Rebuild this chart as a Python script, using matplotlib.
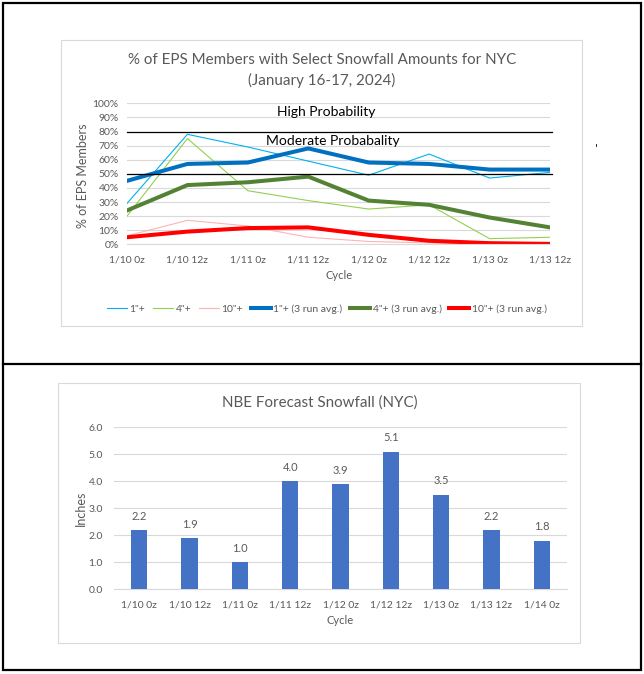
import numpy as np
import matplotlib
matplotlib.use("Agg")
import matplotlib.pyplot as plt
from matplotlib.lines import Line2D
from matplotlib.patches import Rectangle

# ---- data ----------------------------------------------------------------
cycles_eps = ["1/10 0z", "1/10 12z", "1/11 0z", "1/11 12z",
              "1/12 0z", "1/12 12z", "1/13 0z", "1/13 12z"]
one_plus = [29, 78, 69, 59, 49, 64, 47, 51]
four_plus = [20, 75, 38, 31, 25, 28, 4, 5]
ten_plus = [6, 17, 13, 5, 2, 1, 0, 0]
one_avg = [45, 57, 58, 68, 58, 57, 53, 53]
four_avg = [24, 42, 44, 48, 31, 28, 19, 12]
ten_avg = [5, 9, 11.5, 12, 6.7, 2.5, 0.8, 0.3]
thresholds = [80, 50]

cycles_nbe = ["1/10 0z", "1/10 12z", "1/11 0z", "1/11 12z", "1/12 0z",
              "1/12 12z", "1/13 0z", "1/13 12z", "1/14 0z"]
nbe_snow = [2.2, 1.9, 1.0, 4.0, 3.9, 5.1, 3.5, 2.2, 1.8]

# ---- style ---------------------------------------------------------------
W, H = 644, 674
TXT = "#595959"
GRID = "#D9D9D9"
plt.rcParams["font.family"] = ["Lato", "DejaVu Sans"]
plt.rcParams["text.color"] = TXT


def fx(px):
    return px / W


def fy(py):
    return 1 - py / H


def ax_rect(x0, y0, x1, y1):
    # pixel box (top-left origin) -> figure fraction rect
    return [fx(x0), fy(y1), fx(x1) - fx(x0), (y1 - y0) / H]


def excel_axes(ax):
    for s in ("top", "right", "left"):
        ax.spines[s].set_visible(False)
    ax.spines["bottom"].set_color(GRID)
    ax.spines["bottom"].set_linewidth(0.8)
    ax.tick_params(length=0, colors=TXT, labelsize=7.5)
    ax.grid(axis="y", color=GRID, lw=0.8)
    ax.set_axisbelow(True)


fig = plt.figure(figsize=(W / 100, H / 100), dpi=100)

# outer frames
fig.add_artist(Rectangle((fx(3), fy(670)), fx(638), (670 - 3) / H,
                         transform=fig.transFigure, fill=False,
                         ec="black", lw=1.6))
fig.add_artist(Line2D([fx(3), fx(641)], [fy(364), fy(364)],
                      transform=fig.transFigure, color="black", lw=1.6))
fig.add_artist(Rectangle((fx(61), fy(326)), fx(582 - 61), (326 - 40) / H,
                         transform=fig.transFigure, fill=False,
                         ec=GRID, lw=0.8))
fig.add_artist(Rectangle((fx(58), fy(643)), fx(580 - 58), (643 - 383) / H,
                         transform=fig.transFigure, fill=False,
                         ec=GRID, lw=0.8))
fig.add_artist(Line2D([fx(595.5), fx(595.5)], [fy(143.5), fy(145.5)],
                      transform=fig.transFigure, color="black", lw=0.6))

# ---- top: EPS member percentages -----------------------------------------
ax = fig.add_axes(ax_rect(127, 103.3, 550, 244.3))
excel_axes(ax)
x = np.arange(len(cycles_eps))
ax.plot(x, one_plus, color="#00B0F0", lw=0.8, label='1"+')
ax.plot(x, four_plus, color="#92D050", lw=0.8, label='4"+')
ax.plot(x, ten_plus, color="#FFB3B3", lw=0.8, label='10"+')
ax.plot(x, one_avg, color="#0070C0", lw=2.9, label='1"+ (3 run avg.)')
ax.plot(x, four_avg, color="#548235", lw=2.9, label='4"+ (3 run avg.)')
ax.plot(x, ten_avg, color="#FF0000", lw=2.9, label='10"+ (3 run avg.)')
for t in thresholds:
    ax.plot([0, 7.04], [t, t], color="black", lw=0.9, clip_on=False)
ax.set_xlim(0, 7)
ax.set_ylim(0, 100)
ax.set_yticks(np.arange(0, 101, 10))
ax.set_yticklabels([f"{v}%" for v in range(0, 101, 10)])
ax.set_xticks(x)
ax.set_xticklabels(cycles_eps)
ax.tick_params(axis="x", pad=8)
ax.tick_params(axis="y", pad=6)
ax.text(3.3, 93.5, "High Probability", ha="center", va="center",
        color="black", fontsize=10)
ax.text(3.4, 73.5, "Moderate Probabality", ha="center", va="center",
        color="black", fontsize=10)

fig.text(fx(322), fy(60), "% of EPS Members with Select Snowfall Amounts for NYC",
         ha="center", va="center", fontsize=10.9, color=TXT)
fig.text(fx(322), fy(80), "(January 16-17, 2024)",
         ha="center", va="center", fontsize=10.9, color=TXT)
fig.text(fx(83), fy(176), "% of EPS Members", rotation=90,
         ha="center", va="center", fontsize=9, color=TXT)
fig.text(fx(339), fy(276), "Cycle", ha="center", va="center",
         fontsize=8, color=TXT)
handles, labels = ax.get_legend_handles_labels()
fig.legend(handles, labels, loc="center", bbox_to_anchor=(fx(327), fy(309)),
           ncol=6, frameon=False, fontsize=7.5, handlelength=1.9,
           handletextpad=0.25, columnspacing=0.75, labelcolor=TXT)

# ---- bottom: NBE forecast snowfall ----------------------------------------
bx = fig.add_axes(ax_rect(114, 427.3, 567, 589.3))
excel_axes(bx)
xb = np.arange(len(cycles_nbe))
bars = bx.bar(xb, nbe_snow, width=0.32, color="#4472C4", zorder=3)
for b, v in zip(bars, nbe_snow):
    bx.annotate(f"{v:.1f}", (b.get_x() + b.get_width() / 2, v),
                xytext=(0, 6), textcoords="offset points",
                ha="center", va="bottom", fontsize=8, color=TXT)
bx.set_xlim(-0.5, 8.5)
bx.set_ylim(0, 6)
bx.set_yticks(np.arange(0, 6.1, 1))
bx.set_yticklabels([f"{v:.1f}" for v in np.arange(0, 6.1, 1)])
bx.set_xticks(xb)
bx.set_xticklabels(cycles_nbe)
bx.tick_params(axis="x", pad=8)
bx.tick_params(axis="y", pad=8)

fig.text(fx(320), fy(403), "NBE Forecast Snowfall (NYC)", ha="center",
         va="center", fontsize=10.9, color=TXT)
fig.text(fx(81), fy(508), "Inches", rotation=90, ha="center", va="center",
         fontsize=9, color=TXT)
fig.text(fx(340), fy(620), "Cycle", ha="center", va="center",
         fontsize=8, color=TXT)

fig.savefig("out.png", dpi=100)
